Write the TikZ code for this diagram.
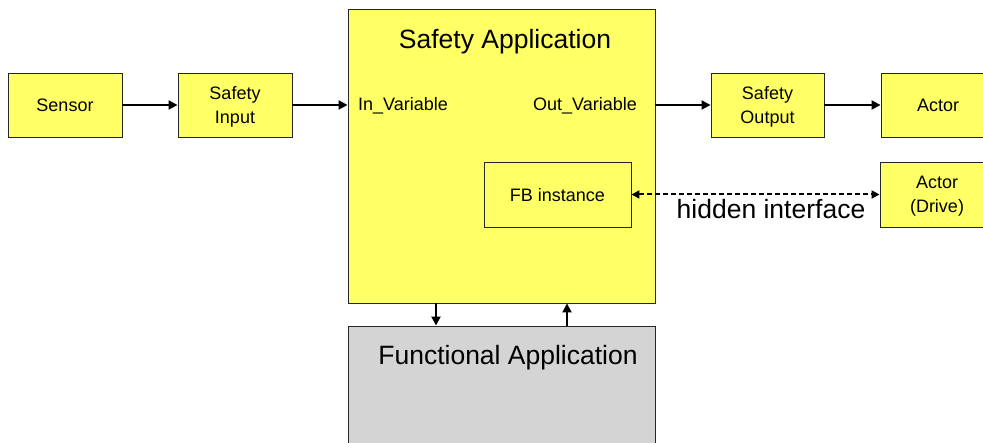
\documentclass[tikz,border=0pt]{standalone}
\usepackage{fontspec}
\setmainfont{Liberation Sans}
\usetikzlibrary{arrows.meta}
\definecolor{boxyellow}{RGB}{255,255,102}
\definecolor{boxgray}{RGB}{212,212,212}
\begin{document}
\begin{tikzpicture}[x=1pt,y=-1pt,
  box/.style={draw=black!85, line width=0.9pt, fill=boxyellow, inner sep=0pt,
              text depth=0pt, font=\fontsize{18}{24}\selectfont, align=center},
  graybox/.style={box, fill=boxgray},
  txt/.style={inner sep=0pt, font=\fontsize{18}{24}\selectfont},
  big/.style={inner sep=0pt, font=\fontsize{26.5}{30}\selectfont},
  flow/.style={line width=2pt, -{Triangle[length=9pt,width=9pt]}},
  hidden/.style={line width=2pt, dash pattern=on 5pt off 3pt,
                 {Triangle[length=8pt,width=8pt]}-{Triangle[length=8pt,width=8pt]}},
]
\useasboundingbox (0,0) rectangle (983,443);
\clip (0,0) rectangle (983,443);

% main application blocks
\node[box, minimum width=307pt, minimum height=294pt] (sapp) at (501.5,156) {};
\node[graybox, minimum width=307pt, minimum height=134pt] (fapp) at (501.5,393) {};
\node[big, anchor=base] (sapptitle) at (505,49) {Safety Application};
\node[big, anchor=base] (fapptitle) at (508,365) {Functional Application};

% signal chain
\node[box, minimum width=114pt, minimum height=64pt] (sensor) at (65,105) {Sensor};
\node[box, minimum width=114pt, minimum height=64pt] (sin) at (235,105) {Safety\\Input};
\node[box, minimum width=113pt, minimum height=64pt] (sout) at (767.5,105) {Safety\\Output};
\node[box, minimum width=114pt, minimum height=64pt] (actor) at (938,105) {Actor};
\node[txt, anchor=base west] (invar) at (358,111) {In\_Variable};
\node[txt, anchor=base east] (outvar) at (637,111) {Out\_Variable};

% hidden path to the drive
\node[box, minimum width=147pt, minimum height=65pt] (fb) at (557.5,194.5) {FB instance};
\node[box, minimum width=114pt, minimum height=65pt] (drive) at (937,194.5) {Actor\\(Drive)};
\node[big, anchor=base] (hiddenlbl) at (771,219) {hidden interface};

% connectors
\draw[flow] (sensor.east) -- (sin.west);
\draw[flow] (sin.east) -- (sin.east -| sapp.west);
\draw[flow] (sapp.east |- sout.west) -- (sout.west);
\draw[flow] (sout.east) -- (actor.west);
\draw[hidden] (fb.east) -- (drive.west);
\draw[flow] ([xshift=-65.5pt]sapp.south) -- ([xshift=-65.5pt]sapp.south |- fapp.north);
\draw[flow] ([xshift=65.5pt]sapp.south |- fapp.north) -- ([xshift=65.5pt]sapp.south);
\end{tikzpicture}
\end{document}
